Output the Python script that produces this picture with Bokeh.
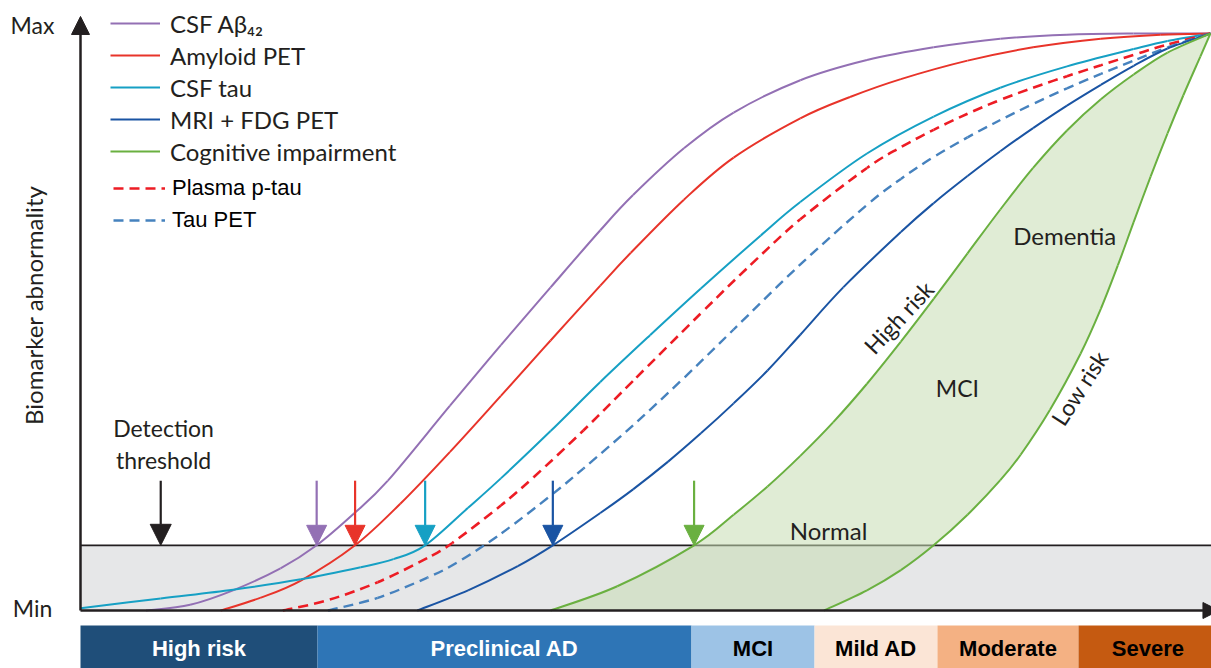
import numpy as np
from bokeh.plotting import figure
from bokeh.models import (Range1d, Arrow, NormalHead, Legend, LegendItem,
                          ColumnDataSource)
from bokeh.core.properties import value
from bokeh.embed import file_html
from bokeh.resources import INLINE

# Hypothetical model of biomarker dynamics in Alzheimer's disease.
# x: disease progression (0-100), y: biomarker abnormality (0 = Min, 100 = Max)
THRESHOLD = 11.3

csf_abeta_x = [5.8, 9.7, 13.5, 17.7, 20.9, 24.2, 27.2, 32.7, 37.2, 41.6, 46.0,
               48.9, 53.4, 57.8, 63.7, 69.6, 75.5, 81.4, 87.3, 93.2, 100]
csf_abeta_y = [0, 1.0, 3.5, 7.3, 11.3, 16.8, 22.5, 35.5, 46.0, 56.0, 65.9,
               72.0, 80.1, 86.3, 91.9, 95.4, 97.6, 99.1, 99.8, 100, 100]

amyloid_pet_x = [12.4, 15.9, 19.5, 24.3, 28.3, 32.7, 37.2, 41.6, 46.0, 48.7,
                 53.4, 57.8, 63.7, 68.1, 72.6, 78.5, 84.3, 90.3, 95.6, 100]
amyloid_pet_y = [0, 2.2, 5.2, 11.3, 18.5, 27.5, 37.2, 46.8, 56.3, 62.0,
                 71.2, 78.5, 85.3, 89.0, 92.1, 95.3, 97.6, 99.1, 99.8, 100]

csf_tau_x = [0, 7.1, 13.5, 19.5, 24.8, 27.7, 30.5, 34.3, 37.2, 41.6, 46.0,
             50.4, 54.9, 60.2, 63.7, 69.6, 75.5, 81.4, 87.3, 93.2, 96.2, 100]
csf_tau_y = [0.4, 2.1, 3.6, 5.4, 7.5, 8.9, 11.3, 17.8, 22.9, 31.1, 39.6,
             47.7, 55.8, 65.0, 70.8, 79.2, 85.6, 90.6, 94.3, 97.3, 98.7, 100]

plasma_ptau_x = [17.9, 21.9, 26.3, 30.7, 32.9, 37.2, 40.1, 44.5, 48.9, 54.9,
                 59.3, 63.7, 69.6, 72.6, 75.5, 78.5, 81.4, 84.3, 87.3, 90.3,
                 93.2, 96.2, 100]
plasma_ptau_y = [0, 1.8, 4.9, 9.1, 11.7, 18.2, 23.1, 31.2, 39.8, 51.5,
                 59.9, 67.8, 76.7, 80.3, 83.3, 86.1, 88.5, 90.6, 92.6, 94.5,
                 96.3, 98.1, 100]

tau_pet_x = [21.9, 26.3, 30.7, 33.4, 37.2, 41.6, 44.5, 48.9, 53.4, 57.8, 63.5,
             69.6, 72.6, 75.5, 78.5, 81.4, 84.3, 87.3, 90.3, 93.2, 96.2, 100]
tau_pet_y = [0, 2.2, 5.7, 8.4, 13.3, 19.9, 24.6, 32.1, 40.3, 48.7, 59.6,
             70.3, 74.8, 78.6, 82.0, 85.0, 87.8, 90.5, 93.0, 95.3, 97.6, 100]

mri_fdg_x = [29.8, 34.3, 38.7, 41.8, 46.0, 48.9, 52.0, 54.9, 57.8, 60.8, 63.7,
             67.5, 72.6, 75.5, 78.5, 81.4, 84.3, 87.3, 90.3, 93.2, 96.2, 100]
mri_fdg_y = [0, 3.5, 7.7, 11.3, 16.9, 21.0, 25.8, 30.7, 35.9, 41.6, 47.8,
             56.0, 65.6, 70.6, 75.3, 79.6, 83.6, 87.5, 91.1, 94.4, 97.4, 100]

# Cognitive impairment: high-risk and low-risk trajectories
cog_high_x = [41.6, 47.5, 54.3, 57.8, 60.8, 63.7, 66.6, 69.6, 72.6, 75.5,
              78.5, 81.4, 84.3, 87.3, 90.3, 93.2, 96.2, 100]
cog_high_y = [0, 4.2, 11.3, 16.6, 21.5, 26.8, 32.6, 39.3, 46.6, 54.0,
              61.9, 69.5, 76.7, 83.2, 88.6, 92.9, 96.7, 100]
cog_low_x = [65.8, 69.6, 72.6, 75.5, 78.5, 81.4, 83.2, 85.8, 88.5, 90.3,
             91.8, 93.2, 94.7, 96.2, 97.6, 99.1, 100]
cog_low_y = [0, 3.5, 7.0, 11.3, 16.6, 22.6, 27.0, 34.8, 44.5, 52.3,
             59.8, 67.3, 75.2, 82.7, 89.3, 96.0, 100]

# Clinical stages along the progression axis
stage_names = ["High risk", "Preclinical AD", "MCI", "Mild AD", "Moderate", "Severe"]
stage_edges = [0, 20.97, 54.07, 64.96, 75.84, 88.32, 100.6]
stage_colors = ["#1f4e79", "#2e75b6", "#9dc3e6", "#fbe5d6", "#f4b183", "#c55a11"]
stage_text_colors = ["#ffffff", "#ffffff", "#000000", "#000000", "#000000", "#000000"]

INK = "#231f20"
PURPLE = "#9370b4"
RED = "#e8342a"
CYAN = "#16a0c4"
NAVY = "#1a54a3"
GREEN = "#6ab040"
DASH_RED = "#ed1c24"
DASH_BLUE = "#4682be"

W, H = 1211, 668
X_RANGE = (-7.08, 100.09)
Y_RANGE = (-10.05, 105.72)
PX_X = W / (X_RANGE[1] - X_RANGE[0])
PX_Y = H / (Y_RANGE[1] - Y_RANGE[0])

p = figure(width=W, height=H,
           x_range=Range1d(*X_RANGE), y_range=Range1d(*Y_RANGE),
           output_backend="svg", toolbar_location=None,
           x_axis_location=None, y_axis_location=None, min_border=0)
p.grid.grid_line_color = None
p.outline_line_color = None
p.background_fill_color = "#ffffff"
p.border_fill_color = "#ffffff"


def smooth_curve(xs, ys, color, width, dash="solid", period=16):
    """Draw a curve through the given points as Catmull-Rom bezier pieces."""
    x = np.asarray(xs, float)
    y = np.asarray(ys, float)
    n = len(x)
    xp = np.concatenate([[x[0]], x, [x[-1]]])
    yp = np.concatenate([[y[0]], y, [y[-1]]])
    cx0 = x[:-1] + (xp[2:n + 1] - xp[0:n - 1]) / 6
    cy0 = y[:-1] + (yp[2:n + 1] - yp[0:n - 1]) / 6
    cx1 = x[1:] - (xp[3:n + 2] - xp[1:n]) / 6
    cy1 = y[1:] - (yp[3:n + 2] - yp[1:n]) / 6
    kw = dict(line_color=color, line_width=width)
    if dash != "solid":
        # keep the dash pattern continuous from one piece to the next
        seg = np.hypot(np.diff(x) * PX_X, np.diff(y) * PX_Y)
        start = np.concatenate([[0.0], np.cumsum(seg)[:-1]])
        kw.update(line_dash=dash,
                  line_dash_offset=[int(v) for v in np.round(start) % period])
    return p.bezier(x0=x[:-1], y0=y[:-1], x1=x[1:], y1=y[1:],
                    cx0=cx0, cy0=cy0, cx1=cx1, cy1=cy1, **kw)


# stage bar
p.quad(left=stage_edges[:-1], right=stage_edges[1:], bottom=-10.6, top=-2.6,
       fill_color=stage_colors, line_color=None)
stage_src = ColumnDataSource(dict(
    x=[(a + b) / 2 for a, b in zip(stage_edges[:-1], stage_edges[1:])],
    y=[-6.6] * len(stage_names), text=stage_names, color=stage_text_colors))
p.text(x="x", y="y", text="text", text_color="color", source=stage_src,
       text_font=value("Liberation Sans"), text_font_style="bold",
       text_font_size="22px", text_align="center", text_baseline="middle")

# sub-threshold band
p.quad(left=0, right=100.6, bottom=0, top=THRESHOLD,
       fill_color="#e6e7e8", line_color=None)
p.segment(x0=0, y0=THRESHOLD, x1=100.6, y1=THRESHOLD,
          line_color=INK, line_width=1.8)

# MCI / dementia region between the two cognitive trajectories
p.patch(cog_high_x + cog_low_x[::-1], cog_high_y + cog_low_y[::-1],
        fill_color="#c6dcb3", fill_alpha=0.55, line_color=None)

r_abeta = smooth_curve(csf_abeta_x, csf_abeta_y, PURPLE, 2)
r_amy = smooth_curve(amyloid_pet_x, amyloid_pet_y, RED, 2)
r_tau = smooth_curve(csf_tau_x, csf_tau_y, CYAN, 2)
r_ptau = smooth_curve(plasma_ptau_x, plasma_ptau_y, DASH_RED, 2.6, "10 6")
r_taupet = smooth_curve(tau_pet_x, tau_pet_y, DASH_BLUE, 2.4, "10 6")
r_mri = smooth_curve(mri_fdg_x, mri_fdg_y, NAVY, 2)
r_cog = smooth_curve(cog_high_x, cog_high_y, GREEN, 2)
smooth_curve(cog_low_x, cog_low_y, GREEN, 2)

# axes with arrow heads
p.add_layout(Arrow(x_start=0, y_start=0, x_end=0, y_end=102.95,
                   line_color=INK, line_width=2.5,
                   end=NormalHead(size=18, fill_color=INK, line_color=INK)))
p.add_layout(Arrow(x_start=0, y_start=0, x_end=100.75, y_end=0,
                   line_color=INK, line_width=2.5,
                   end=NormalHead(size=16, fill_color=INK, line_color=INK)))

# arrows where each curve crosses the detection threshold
ARROW_TOP = 22.5
for xs, ys, c in [(csf_abeta_x, csf_abeta_y, PURPLE),
                  (amyloid_pet_x, amyloid_pet_y, RED),
                  (csf_tau_x, csf_tau_y, CYAN),
                  (mri_fdg_x, mri_fdg_y, NAVY),
                  (cog_high_x, cog_high_y, GREEN)]:
    xc = float(np.interp(THRESHOLD, ys, xs))
    p.add_layout(Arrow(x_start=xc, y_start=ARROW_TOP, x_end=xc, y_end=THRESHOLD,
                       line_color=c, line_width=2.2,
                       end=NormalHead(size=20, fill_color=c, line_color=c)))
p.add_layout(Arrow(x_start=7.1, y_start=ARROW_TOP, x_end=7.1, y_end=THRESHOLD,
                   line_color=INK, line_width=2.2,
                   end=NormalHead(size=21, fill_color=INK, line_color=INK)))

# annotation texts
notes = ColumnDataSource(dict(
    x=[-4.25, -4.25, -4.16, 7.35, 7.35, 66.2, 77.6, 87.1, 72.4, 88.4],
    y=[101.4, 0.5, 52.9, 31.7, 26.0, 13.9, 38.5, 65.0, 50.8, 38.6],
    text=["Max", "Min", "Biomarker abnormality", "Detection", "threshold",
          "Normal", "MCI", "Dementia", "High risk", "Low risk"],
    size=["23px", "23px", "24px", "23px", "23px", "24px", "23px", "24px",
          "23px", "23px"],
    angle=[0, 0, np.pi / 2, 0, 0, 0, 0, 0, np.radians(47), np.radians(57)]))
p.text(x="x", y="y", text="text", angle="angle", text_font_size="size",
       source=notes, text_font=value("Lato"), text_color=INK,
       text_align="center", text_baseline="middle")

legend_main = Legend(items=[
    LegendItem(label="CSF Aβ₄₂", renderers=[r_abeta]),
    LegendItem(label="Amyloid PET", renderers=[r_amy]),
    LegendItem(label="CSF tau", renderers=[r_tau]),
    LegendItem(label="MRI + FDG PET", renderers=[r_mri]),
    LegendItem(label="Cognitive impairment", renderers=[r_cog]),
], location=(110, 501), glyph_width=50, glyph_height=32, label_height=32,
    spacing=0, padding=0, margin=0, label_standoff=10,
    border_line_color=None, background_fill_alpha=0,
    label_text_font="Lato", label_text_font_size="24px", label_text_color=INK)

legend_new = Legend(items=[
    LegendItem(label="Plasma p-tau", renderers=[r_ptau]),
    LegendItem(label="Tau PET", renderers=[r_taupet]),
], location=(113, 432), glyph_width=52, glyph_height=32, label_height=32,
    spacing=0, padding=0, margin=0, label_standoff=7,
    border_line_color=None, background_fill_alpha=0,
    label_text_font="Liberation Sans", label_text_font_size="22px",
    label_text_color="#000000")

p.add_layout(legend_main)
p.add_layout(legend_new)

open("out.html", "w").write(file_html(p, INLINE))
